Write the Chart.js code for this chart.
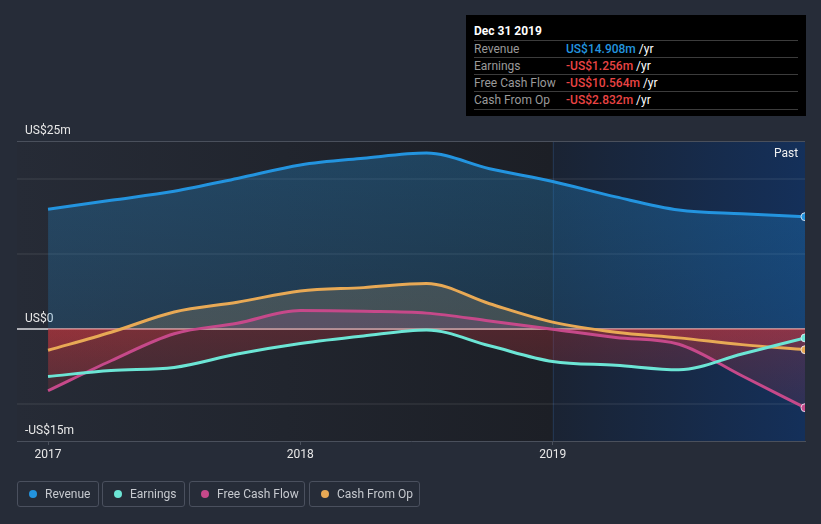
<!DOCTYPE html>
<html>
<head>
<meta charset="utf-8">
<script src="https://cdn.jsdelivr.net/npm/chart.js@4.4.1/dist/chart.umd.min.js"></script>
<style>
  html, body { margin:0; padding:0; background:#262c38; }
  body { width:821px; height:524px; position:relative; overflow:hidden; font-family: Roboto, "Noto Sans", sans-serif; }
  #c { position:absolute; left:0; top:0; width:821px; height:524px; }
  .tip { position:absolute; left:466px; top:15px; width:340px; height:101px; background:#000; }
  .tip .title { position:absolute; left:8px; top:9px; font-size:12px; font-weight:bold; color:#fff; }
  .tip .row { position:absolute; left:8px; width:324px; height:17px; border-top:1px solid #3c3c3c; font-size:12px; line-height:16px; }
  .tip .row.last { border-bottom:1px solid #3c3c3c; }
  .tip .lab { position:absolute; left:0; color:#9a9a9a; }
  .tip .val { position:absolute; left:92px; color:#fff; white-space:pre; }
  .past { position:absolute; left:774px; top:146px; font-size:12px; color:#f0f0f0; }
  .legend { position:absolute; top:481px; left:0; }
  .lg { position:absolute; top:0; height:24px; border:1px solid #4a505e; border-radius:3px; box-sizing:content-box; font-size:12px; color:#c6c9cf; line-height:24px; white-space:nowrap; }
  .lg .dot { position:absolute; left:11px; top:8px; width:8px; height:8px; border-radius:50%; }
  .lg .t { position:absolute; left:27px; top:0; }
</style>
</head>
<body>
<canvas id="c" width="821" height="524"></canvas>
<div class="tip" id="tip"></div>
<div class="past">Past</div>
<div class="legend" id="legend"></div>
<script>
// ---- data (US$ millions) ----
const quarterX = [2017.0, 2017.25, 2017.5, 2017.75, 2018.0, 2018.25, 2018.5, 2018.75, 2019.0, 2019.25, 2019.5, 2019.75, 2020.0];
const revenue  = [15.9, 17.1, 18.3, 20.0, 21.8, 22.7, 23.4, 21.3, 19.6, 17.55, 15.8, 15.3, 14.908];
const earnings = [-6.4, -5.6, -5.2, -3.4, -2.0, -1.0, -0.2, -2.3, -4.4, -4.9, -5.5, -3.4, -1.256];
const freeCashFlow = [-8.3, -4.3, -0.7, 0.7, 2.4, 2.3, 2.05, 1.0, -0.1, -1.2, -2.1, -6.3, -10.564];
const cashFromOp   = [-2.9, -0.5, 2.2, 3.5, 5.0, 5.45, 6.0, 3.3, 0.85, -0.5, -1.25, -2.15, -2.832];
const seriesNames = ['Revenue', 'Earnings', 'Free Cash Flow', 'Cash From Op'];
const seriesColors = ['#2394df', '#6ce5d5', '#c6498a', '#e8a955'];
const xTickValues = [2017, 2018, 2019];
const xTickLabels = ['2017', '2018', '2019'];
const yTickValues = [-15, -10, 0, 10, 20, 25];
const yTickLabels = {'25': 'US$25m', '0': 'US$0', '-15': '-US$15m'};
const tooltipTitle = 'Dec 31 2019';
const tooltipValues = ['US$14.908m', '-US$1.256m', '-US$10.564m', '-US$2.832m'];
const nowX = 2019.0;

// ---- tooltip & legend (HTML) ----
const tip = document.getElementById('tip');
tip.innerHTML = '<div class="title">' + tooltipTitle + '</div>' + seriesNames.map((n, i) =>
  '<div class="row' + (i === 3 ? ' last' : '') + '" style="top:' + (25 + i * 17) + 'px"><span class="lab">' + n +
  '</span><span class="val"><span style="color:' + (i === 0 ? '#2394df' : '#ea4444') + ';font-weight:500">' + tooltipValues[i] +
  '</span> /yr</span></div>').join('');
const legendBoxes = [[17, 80], [102, 81], [189, 114], [309, 109]];
document.getElementById('legend').innerHTML = seriesNames.map((n, i) =>
  '<div class="lg" style="left:' + legendBoxes[i][0] + 'px;width:' + legendBoxes[i][1] + 'px"><span class="dot" style="background:' +
  seriesColors[i] + '"></span><span class="t">' + n + '</span></div>').join('');

// ---- chart ----
const toPts = arr => arr.map((v, i) => ({x: quarterX[i], y: v}));
const last = quarterX.length - 1;

const bgPlugin = {
  id: 'bg',
  beforeDraw(chart) {
    const {ctx, chartArea: a, scales} = chart;
    ctx.save();
    ctx.fillStyle = '#262c38';
    ctx.fillRect(0, 0, chart.width, chart.height);
    const xn = scales.x.getPixelForValue(nowX);
    let g = ctx.createLinearGradient(a.left, 0, xn, 0);
    g.addColorStop(0, '#262b36');
    g.addColorStop(1, '#1c1f26');
    ctx.fillStyle = g;
    ctx.fillRect(a.left, a.top, xn - a.left, a.bottom - a.top);
    g = ctx.createLinearGradient(xn, 0, a.right, 0);
    g.addColorStop(0, '#1a2333');
    g.addColorStop(1, '#14305a');
    ctx.fillStyle = g;
    ctx.fillRect(xn, a.top, a.right - xn, a.bottom - a.top);
    ctx.strokeStyle = 'rgba(45,75,115,0.45)';
    ctx.lineWidth = 1;
    ctx.beginPath();
    ctx.moveTo(Math.round(xn) + 0.5, a.top);
    ctx.lineTo(Math.round(xn) + 0.5, a.bottom);
    ctx.stroke();
    ctx.restore();
  }
};

function vgrad(ctx, top, bottom) {
  const a = ctx.chart.chartArea;
  if (!a) return top;
  const g = ctx.chart.ctx.createLinearGradient(0, a.top, 0, a.bottom);
  g.addColorStop(0, top);
  g.addColorStop(1, bottom);
  return g;
}

function belowFill(c) {
  const a = c.chart.chartArea;
  if (!a) return 'rgba(200,50,60,0.2)';
  const y0 = c.chart.scales.y.getPixelForValue(0);
  const g = c.chart.ctx.createLinearGradient(0, y0, 0, a.bottom);
  g.addColorStop(0, 'rgba(210,55,62,0.28)');
  g.addColorStop(1, 'rgba(210,55,62,0.07)');
  return g;
}

const ptRadius = c => c.dataIndex === last ? 4 : 0;

function ds(label, data, color, fillAbove) {
  return {
    label, data: toPts(data),
    borderColor: color, borderWidth: 3,
    cubicInterpolationMode: 'monotone',
    pointRadius: ptRadius, pointHoverRadius: ptRadius,
    pointBackgroundColor: color, pointBorderColor: 'rgba(235,235,245,0.85)', pointBorderWidth: 1,
    fill: {target: 'origin', above: fillAbove, below: belowFill}
  };
}

new Chart(document.getElementById('c'), {
  type: 'line',
  data: {
    datasets: [
      ds(seriesNames[0], revenue, seriesColors[0], c => vgrad(c, 'rgba(35,148,223,0.30)', 'rgba(35,148,223,0.12)')),
      ds(seriesNames[1], earnings, seriesColors[1], 'rgba(108,229,213,0.15)'),
      ds(seriesNames[2], freeCashFlow, seriesColors[2], 'rgba(198,73,138,0.22)'),
      ds(seriesNames[3], cashFromOp, seriesColors[3], 'rgba(232,169,85,0.22)')
    ]
  },
  options: {
    responsive: false,
    animation: false,
    devicePixelRatio: 1,
    layout: { padding: { left: 17, right: 16, top: 141, bottom: 58.6 } },
    plugins: { legend: { display: false }, tooltip: { enabled: false }, filler: { drawTime: 'beforeDatasetsDraw' } },
    scales: {
      x: {
        type: 'linear', min: 2016.877, max: 2020.0,
        afterBuildTicks: s => { s.ticks = xTickValues.map(v => ({value: v})); },
        afterFit: s => { s.paddingLeft = 0; s.paddingRight = 0; },
        ticks: { callback: v => xTickLabels[xTickValues.indexOf(v)] ?? '', color: '#e8e8e8', font: { family: 'Roboto', size: 12 }, padding: 3, maxRotation: 0, autoSkip: false },
        grid: { drawOnChartArea: false, drawTicks: true, tickLength: 4, color: '#4a505c' },
        border: { display: true, color: '#4a505c', width: 1 }
      },
      y: {
        min: -15, max: 25,
        afterBuildTicks: s => { s.ticks = yTickValues.map(v => ({value: v})); },
        afterFit: s => { s.width = 0; s.paddingTop = 0; s.paddingBottom = 0; },
        ticks: { mirror: true, padding: 8, labelOffset: -10, callback: v => yTickLabels[String(v)] ?? '', color: '#e8e8e8', font: { family: 'Roboto', size: 12 } },
        grid: {
          drawTicks: false,
          color: c => { const v = c.tick.value; return v === 0 ? 'rgba(200,200,205,0.85)' : v === 25 ? '#4a505c' : v === -15 ? 'rgba(0,0,0,0)' : 'rgba(255,255,255,0.06)'; },
          lineWidth: c => { const v = c.tick.value; return v === 25 ? 1 : 2; }
        },
        border: { display: false }
      }
    }
  },
  plugins: [bgPlugin]
});
</script>
</body>
</html>
